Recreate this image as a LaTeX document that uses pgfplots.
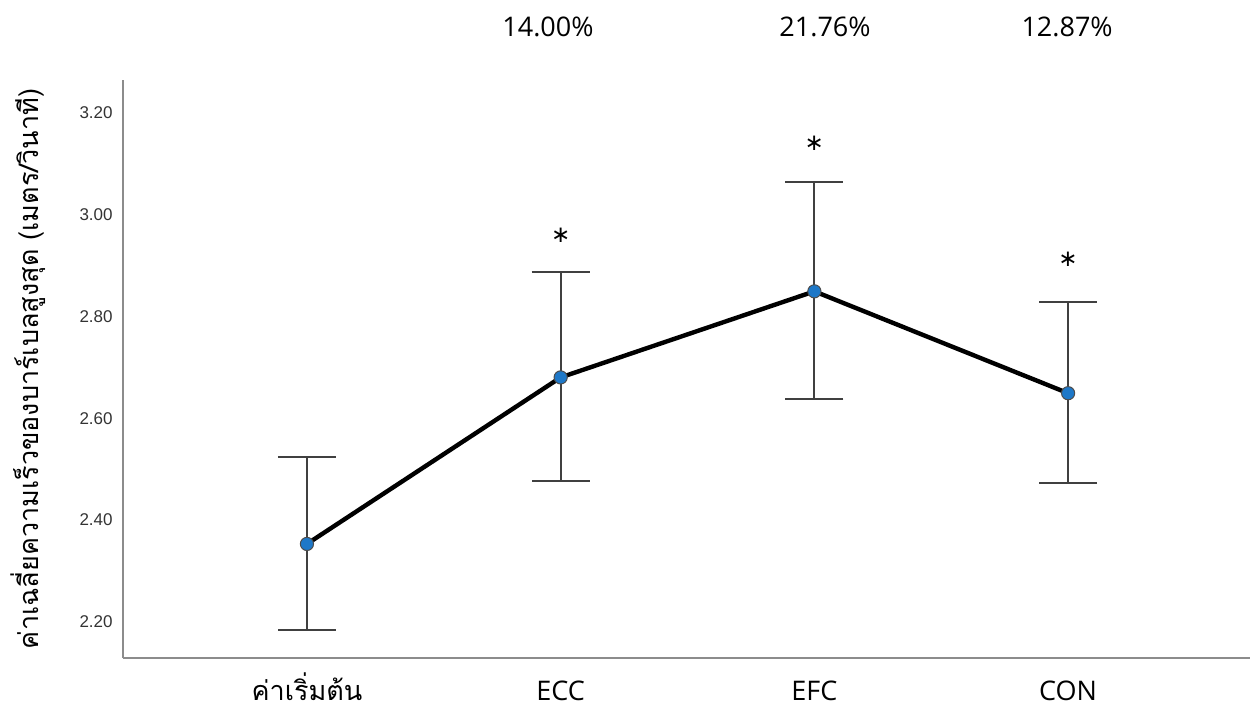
\documentclass[border=0pt]{standalone}
\usepackage{pgfplots}
\pgfplotsset{compat=1.18}
\usepackage{fontspec}
\setmainfont{Open Sans}
\newfontfamily\thaifont[Script=Thai]{Loma}
\newfontfamily\tickfont{Liberation Sans}
\newfontfamily\symfont{DejaVu Sans}
\definecolor{markblue}{HTML}{1E78C8}
\definecolor{errgray}{HTML}{404040}
\definecolor{axgray}{HTML}{8C8C8C}

\begin{document}
\begin{tikzpicture}
\useasboundingbox (-61.5pt,-25.5pt) rectangle (566.5pt,329pt);
\begin{axis}[
  at={(0,0)}, anchor=south west,
  scale only axis, width=563.5pt, height=289pt,
  xmin=-0.725, xmax=3.717, ymin=2.129, ymax=3.264,
  axis lines=left,
  axis line style={-, draw=axgray, line width=1pt},
  major tick length=0pt,
  xtick={0,1,2,3},
  xticklabels={{\thaifont ค่าเริ่มต้น},ECC,EFC,CON},
  xticklabel style={anchor=base, yshift=-21pt, font=\fontsize{13.5pt}{16pt}\selectfont},
  ytick={2.2,2.4,2.6,2.8,3.0,3.2},
  yticklabel style={anchor=east, inner sep=0pt, xshift=-5pt, text=black!80,
    font=\tickfont\fontsize{8.5pt}{10pt}\selectfont,
    /pgf/number format/.cd, fixed, fixed zerofill, precision=2, assume math mode=true},
  ylabel={\thaifont ค่าเฉลี่ยความเร็วของบาร์เบลสูงสุด (เมตร/วินาที)},
  ylabel style={at={(axis description cs:-0.0843,0.5)}, anchor=center,
    font=\fontsize{13.5pt}{15pt}\selectfont},
  clip=false,
]
% confidence intervals
\addplot[only marks, mark=none,
  error bars/.cd, y dir=both, y explicit,
  error bar style={line width=1pt, draw=errgray},
  error mark options={rotate=90, mark size=14.5pt, line width=1pt, draw=errgray}]
  coordinates {
    (0,2.353) += (0,0.170) -= (0,0.169)
    (1,2.680) += (0,0.206) -= (0,0.203)
    (2,2.849) += (0,0.214) -= (0,0.212)
    (3,2.649) += (0,0.179) -= (0,0.176)
  };

% mean values joined by the profile line
\addplot[line width=2.2pt, draw=black, mark=*, mark size=3.3pt,
  mark options={fill=markblue, draw=black!70, line width=0.5pt}]
  coordinates {(0,2.353) (1,2.680) (2,2.849) (3,2.649)};

% significance markers
\addplot[only marks, mark=none, nodes near coords, point meta=explicit symbolic,
  every node near coord/.style={anchor=center, inner sep=0pt,
    font=\symfont\fontsize{11.5pt}{12pt}\selectfont}]
  coordinates {(1,2.960) [∗] (2,3.140) [∗] (3,2.911) [∗]};

% percentage change from baseline
\addplot[only marks, mark=none, nodes near coords, point meta=explicit symbolic,
  every node near coord/.style={anchor=center, inner sep=0pt,
    font=\fontsize{13.5pt}{16pt}\selectfont}]
  coordinates {(0.950,3.368) [14.00\%] (2.042,3.368) [21.76\%] (2.996,3.368) [12.87\%]};
\end{axis}
\end{tikzpicture}
\end{document}
